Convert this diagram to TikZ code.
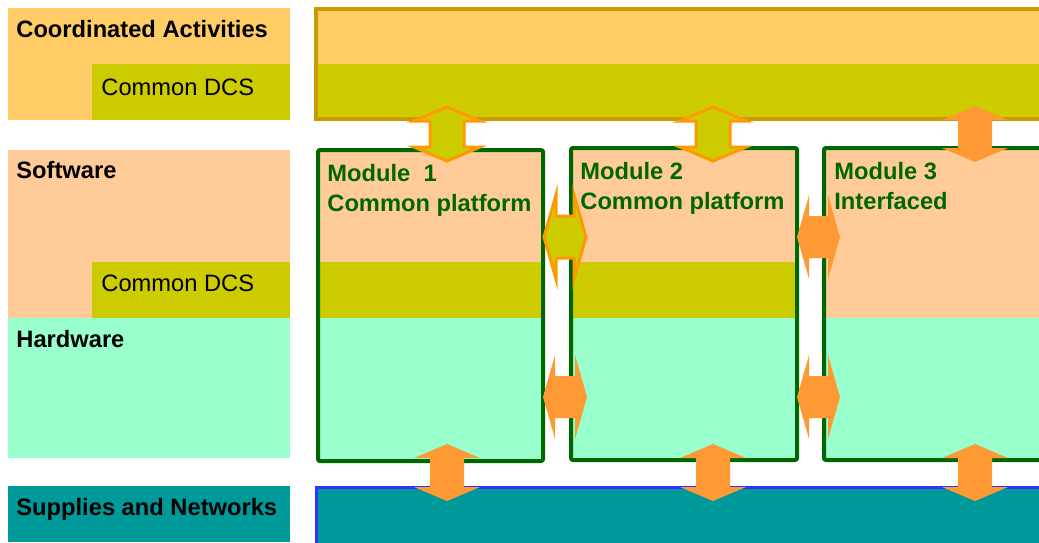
\documentclass[tikz,border=0pt]{standalone}
\usepackage{fontspec}
\setmainfont{Liberation Sans}

\definecolor{activ}{HTML}{FFCC66}
\definecolor{dcs}{HTML}{CCCC00}
\definecolor{soft}{HTML}{FFCC99}
\definecolor{hard}{HTML}{99FFCC}
\definecolor{suppl}{HTML}{009999}
\definecolor{modgreen}{HTML}{006600}
\definecolor{arrorange}{HTML}{FF9933}
\definecolor{arredge}{HTML}{FF9900}
\definecolor{barbrown}{HTML}{CC9900}
\definecolor{netblue}{HTML}{3333FF}

\tikzset{lbl/.style = {anchor=base west, inner sep=0pt,
                       font=\fontsize{11.85}{15}\selectfont},
         titre/.style = {lbl, font=\fontsize{11.85}{15}\selectfont\bfseries},
         modlbl/.style = {titre, text=modgreen},
         modbox/.style = {draw=modgreen, line width=2pt, rounded corners=1pt},
         flecheA/.style = {fill=dcs, draw=arredge, line width=1.5pt},
         flecheB/.style = {fill=arrorange}
        }

% vertical double arrow: style, x, y top, y bottom
\newcommand{\flecheV}[4]{%
  \path[#1] (#2,#3) -- ({#2+33},{#3+14}) -- ({#2+17},{#3+14})
        -- ({#2+17},{#4-14}) -- ({#2+33},{#4-14}) -- (#2,#4)
        -- ({#2-33},{#4-14}) -- ({#2-17},{#4-14})
        -- ({#2-17},{#3+14}) -- ({#2-33},{#3+14}) -- cycle;}
% horizontal double arrow: style, x left, x right, y
\newcommand{\flecheH}[4]{%
  \path[#1] (#2,#4) -- ({#2+12},{#4-42}) -- ({#2+12},{#4-21})
        -- ({#3-12},{#4-21}) -- ({#3-12},{#4-42}) -- (#3,#4)
        -- ({#3-12},{#4+42}) -- ({#3-12},{#4+21})
        -- ({#2+12},{#4+21}) -- ({#2+12},{#4+42}) -- cycle;}

\begin{document}
\begin{tikzpicture}[x=0.5pt, y=-0.5pt]
  \clip (0,0) rectangle (1039,542);
  \fill[white] (0,0) rectangle (1039,542);

  % left column
  \fill[activ] (8,8) rectangle (290,120);
  \fill[dcs] (92,64) rectangle (290,120);
  \fill[soft] (8,150) rectangle (290,318);
  \fill[dcs] (92,262) rectangle (290,318);
  \fill[hard] (8,318) rectangle (290,458);
  \fill[suppl] (8,486) rectangle (290,542);

  \node[titre] (coord) at (16,37) {Coordinated Activities};
  \node[lbl] (dcsa) at (101,95) {Common DCS};
  \node[titre] (soft) at (16,178) {Software};
  \node[lbl] (dcsb) at (101,291) {Common DCS};
  \node[titre] (hard) at (16,347) {Hardware};
  \node[titre] (suppl) at (16,515) {Supplies and Networks};

  % top bar
  \fill[activ] (316,9) rectangle (1045,64);
  \fill[dcs] (316,64) rectangle (1045,119);
  \draw[barbrown, line width=1.75pt] (1045,9) -- (316,9) -- (316,119) -- (1045,119);

  % bottom bar
  \fill[suppl] (316,487) rectangle (1045,550);
  \draw[netblue, line width=1.5pt] (1045,487) -- (316,487) -- (316,550);

  % modules
  \foreach \xa/\xb/\ya/\yb in {318/543/150/461, 571/797/148/460} {
    \fill[soft] (\xa,\ya) rectangle (\xb,262);
    \fill[dcs] (\xa,262) rectangle (\xb,318);
    \fill[hard] (\xa,318) rectangle (\xb,\yb);
    \draw[modbox] (\xa,\ya) rectangle (\xb,\yb);
  }
  \fill[soft] (824,148) rectangle (1045,318);
  \fill[hard] (824,318) rectangle (1045,460);
  \draw[modbox] (1045,148) -- (824,148) -- (824,460) -- (1045,460);

  \node[modlbl] (moda) at (327,181) {Module\ \ 1};
  \node[modlbl] (modaa) at (327,211) {Common platform};
  \node[modlbl] (modb) at (580,179) {Module 2};
  \node[modlbl] (modbb) at (580,209) {Common platform};
  \node[modlbl] (modc) at (834,179) {Module 3};
  \node[modlbl] (modcc) at (834,209) {Interfaced};

  % arrows
  \flecheV{flecheA}{447}{107}{161}
  \flecheV{flecheA}{713}{107}{161}
  \flecheV{flecheB}{975}{106}{162}
  \flecheH{flecheA}{544}{586}{237}
  \flecheH{flecheB}{797}{840}{237}
  \flecheH{flecheB}{543}{587}{397}
  \flecheH{flecheB}{797}{840}{397}
  \flecheV{flecheB}{447}{444}{501}
  \flecheV{flecheB}{713}{444}{501}
  \flecheV{flecheB}{975}{444}{501}
\end{tikzpicture}
\end{document}
